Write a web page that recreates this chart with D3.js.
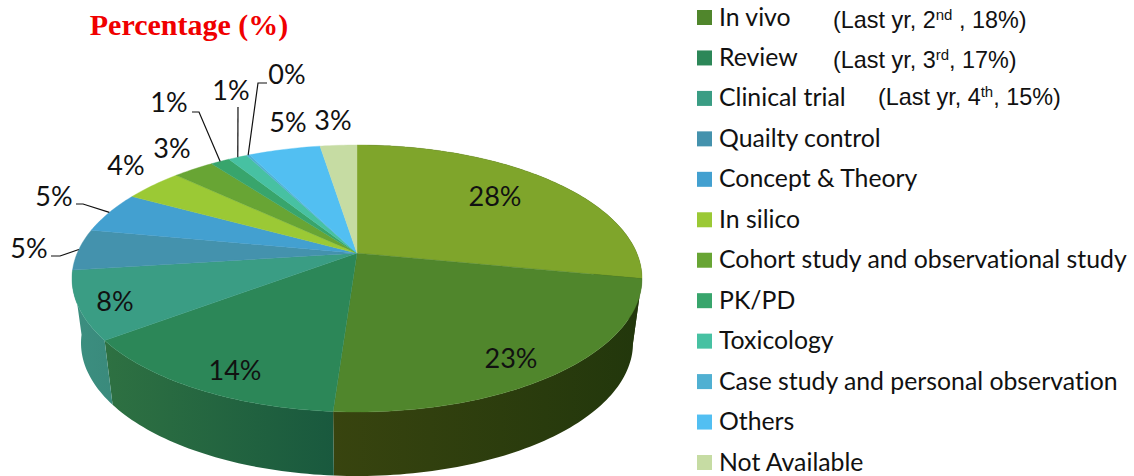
<!DOCTYPE html>
<html>
<head>
<meta charset="utf-8">
<script src="https://cdn.jsdelivr.net/npm/d3@7"></script>
<style>
    html, body {margin: 0; padding: 0; background: #fff; overflow: hidden;}
    text {font-family: Lato, sans-serif; fill: #111; font-variant-ligatures: none;}
</style>
</head>
<body>
<svg id="vis" width="1134" height="476"></svg>
<script>
// first slice has no legend row in the source picture, so it stays unnamed
var categories = ["", "In vivo", "Review", "Clinical trial", "Quailty control", "Concept & Theory", "In silico",
    "Cohort study and observational study", "PK/PD", "Toxicology", "Case study and personal observation",
    "Others", "Not Available"];
var shares = [28, 23, 13.6, 8.2, 5, 5, 4, 2.8, 1.3, 1.3, 0.2, 4.9, 2.5];
var shareLabels = ["28%", "23%", "14%", "8%", "5%", "5%", "4%", "3%", "1%", "1%", "0%", "5%", "3%"];
var lastYear = [
    {name: "In vivo", rank: "2", suffix: "nd", rest: " , 18%)"},
    {name: "Review", rank: "3", suffix: "rd", rest: ", 17%)"},
    {name: "Clinical trial", rank: "4", suffix: "th", rest: ", 15%)"}
];

var topColors = ["#7fa52b", "#50862c", "#2c8758", "#3a9d84", "#4492ad", "#43a0d0", "#9bc935",
    "#68a534", "#38a56c", "#47c1a2", "#50b0d2", "#52bff2", "#c6dca3"];
var sideColors = [["#26380c", "#26380c"], ["#38440f", "#22370c"], ["#2e7142", "#19593e"], ["#3c8f80", "#3a8a7c"]];

// placement of the percent labels [center x, baseline y], elbow of the leader lines
var labelSpots = [[495, 206], [511, 368], [235, 380], [115, 311], [29, 258], [54, 206], [126, 175],
    [172, 158], [169, 112], [231, 100], [287, 84], [288, 132], [333, 130]];
var leaders = {
    4: [[51, 256], [60, 256]],
    5: [[76, 204], [83, 204]],
    8: [[192, 112], [199, 112]],
    9: [[238, 107]],
    10: [[267, 83], [258, 83]]
};

var svg = d3.select("#vis");
var defs = svg.append("defs");

// ellipse of the lid and the (slightly smaller) ellipse of the bottom rim
var lid = {cx: 357, cy: 278.5, rx: 285, ry: 133.5};
var rim = {cx: 357, cy: 343, rx: 276, ry: 133};
var tilt = 0.19; //how far the pie center sits above the ellipse center, makes the front slices look bigger

function project(e, angle) {
    var u = Math.sin(angle), v = -Math.cos(angle);
    var w = 1 - tilt * v;
    return [e.cx + e.rx * u * Math.sqrt(1 - tilt * tilt) / w, e.cy + e.ry * (v - tilt) / w];
}

function sweep(a0, a1) {
    var n = Math.max(2, Math.ceil(Math.abs(a1 - a0) / 0.02));
    return d3.range(n + 1).map(function (i) { return a0 + (a1 - a0) * i / n; });
}

var pie = d3.pie().sort(null).value(function (d) { return d; });
var slices = pie(shares);
var line = d3.line();

var sideGroup = svg.append("g").attr("class", "sides");
var topGroup = svg.append("g").attr("class", "tops");

// side walls
slices.slice(0, 4).forEach(function (d, i) {
    var id = "side-" + i;
    var grad = defs.append("linearGradient").attr("id", id);
    grad.append("stop").attr("offset", "0%").attr("stop-color", sideColors[i][0]);
    grad.append("stop").attr("offset", "100%").attr("stop-color", sideColors[i][1]);

    var angles = sweep(d.startAngle, d.endAngle);
    var pts = angles.map(function (a) { return project(lid, a); })
        .concat(angles.slice().reverse().map(function (a) { return project(rim, a); }));
    sideGroup.append("path")
        .attr("d", line(pts) + "Z")
        .attr("fill", "url(#" + id + ")");
});

// lid
var apex = [lid.cx, lid.cy - lid.ry * tilt];
slices.forEach(function (d, i) {
    var pts = [apex].concat(sweep(d.startAngle, d.endAngle).map(function (a) {
        return project(lid, a);
    }));
    topGroup.append("path")
        .attr("d", line(pts) + "Z")
        .attr("fill", topColors[i])
        .attr("stroke", topColors[i])
        .attr("stroke-width", 0.4);
});

// leader lines end on the rim at the middle of their slice
Object.keys(leaders).forEach(function (k) {
    var d = slices[+k];
    var end = project(lid, (d.startAngle + d.endAngle) / 2);
    svg.append("path")
        .attr("d", line(leaders[k].concat([end])))
        .attr("fill", "none")
        .attr("stroke", "#111")
        .attr("stroke-width", 1.2);
});

svg.selectAll(".pct")
    .data(shareLabels)
    .enter()
    .append("text")
    .attr("class", "pct")
    .attr("x", function (d, i) { return labelSpots[i][0]; })
    .attr("y", function (d, i) { return labelSpots[i][1]; })
    .style("font-size", "27px")
    .style("text-anchor", "middle")
    .text(function (d) { return d; });

svg.append("text")
    .attr("x", 189)
    .attr("y", 35)
    .style("font-family", "'Liberation Serif', serif")
    .style("font-weight", "bold")
    .style("font-size", "30px")
    .style("fill", "#f00000")
    .style("text-anchor", "middle")
    .text("Percentage (%)");

// legend, the unnamed first slice is skipped
var legendItems = categories.map(function (c, i) { return {name: c, color: topColors[i]}; }).slice(1);
var legendY = d3.scaleLinear().domain([0, legendItems.length - 1]).range([17.5, 462.5]);

var rows = svg.selectAll(".legend-row")
    .data(legendItems)
    .enter()
    .append("g")
    .attr("class", "legend-row")
    .attr("transform", function (d, i) { return "translate(697," + legendY(i) + ")"; });

rows.append("rect")
    .attr("x", 0)
    .attr("y", -7.5)
    .attr("width", 15)
    .attr("height", 15)
    .attr("fill", function (d) { return d.color; });

rows.append("text")
    .attr("x", 22)
    .attr("y", 8)
    .style("font-size", "24.8px")
    .text(function (d) { return d.name; });

var lastYearX = [833, 833, 878];
var lastYearY = [28, 68, 105];

lastYear.forEach(function (d, i) {
    var t = svg.append("text")
        .attr("x", lastYearX[i])
        .attr("y", lastYearY[i])
        .style("font-family", "'Liberation Sans', sans-serif")
        .style("font-size", "23.4px");
    t.append("tspan").text("(Last yr, " + d.rank);
    t.append("tspan").attr("dy", -8).style("font-size", "15px").text(d.suffix);
    t.append("tspan").attr("dy", 8).text(d.rest);
});
</script>
</body>
</html>
